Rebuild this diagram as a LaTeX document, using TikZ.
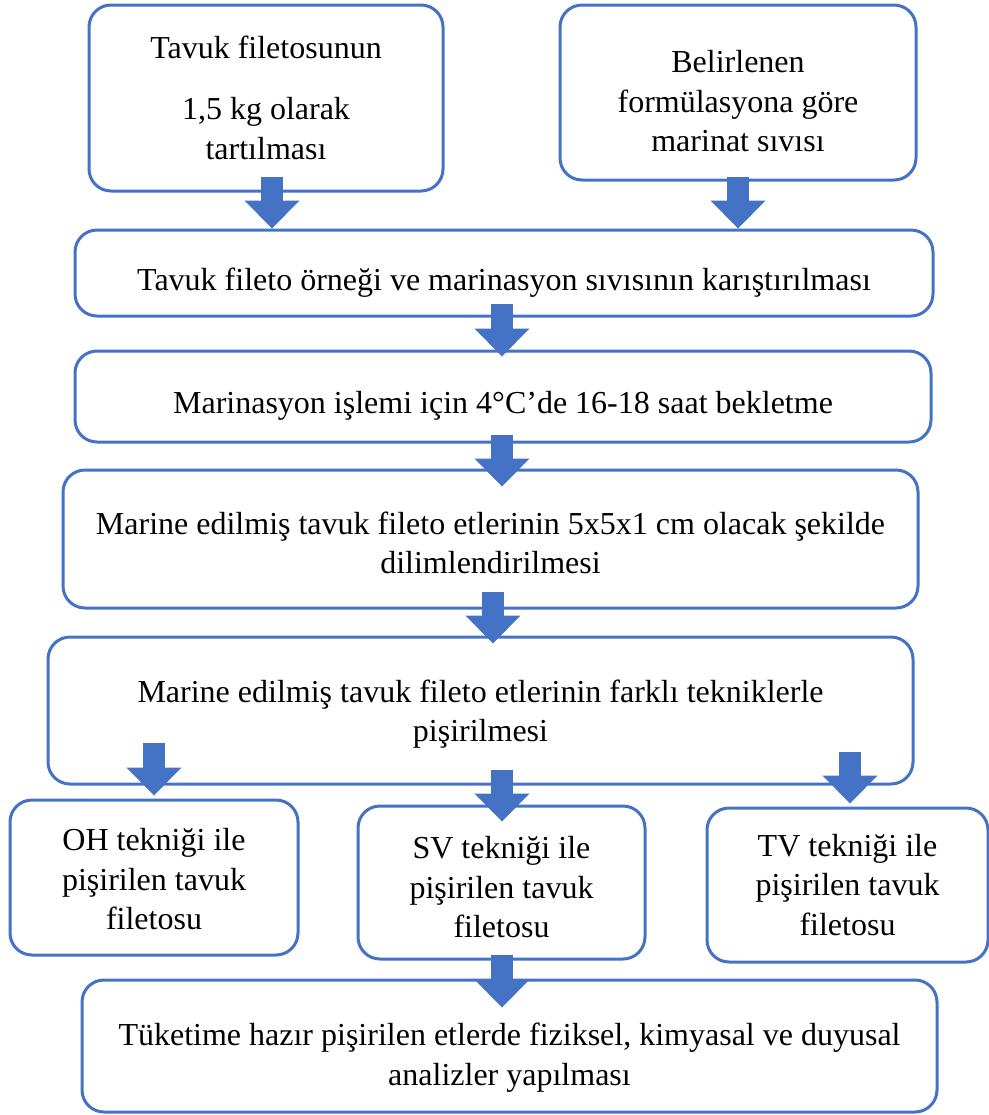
\documentclass[tikz,border=0pt]{standalone}
\usepackage{fontspec}
\setmainfont{Liberation Serif}
\usepackage{tikz}
\usetikzlibrary{arrows.meta}
\definecolor{flowblue}{HTML}{4472C4}
\newcommand{\textdrop}[1]{\rule{0pt}{\dimexpr 11pt+#1\relax}}
\tikzset{
  stepbox/.style={draw=flowblue, line width=1.5pt, rounded corners=11pt, fill=white,
    align=center, inner sep=0pt, font=\fontsize{16}{19.75}\selectfont},
  flow/.style={draw=flowblue, line width=11pt,
    -{Triangle[width=27.5pt,length=14pt,line width=0pt]}},
}

\begin{document}
\begin{tikzpicture}[x=0.5pt,y=-0.5pt]
                \useasboundingbox (0,0) rectangle (989,1115);
                % row 1
                \node[stepbox, minimum width=177pt, minimum height=93pt] (weigh) at (266,98)
                    {Tavuk filetosunun\\[10.75pt]1,5 kg olarak\\tartılması};
                \node[stepbox, minimum width=178pt, minimum height=87.5pt] (marinade) at (738,92.5)
                    {\textdrop{9pt}Belirlenen\\formülasyona göre\\marinat sıvısı};
                % middle steps
                \node[stepbox, minimum width=429pt, minimum height=43pt] (mix) at (504,273)
                    {\textdrop{10pt}Tavuk fileto örneği ve marinasyon sıvısının karıştırılması};
                \node[stepbox, minimum width=428pt, minimum height=45.5pt] (rest) at (503,396.5)
                    {\textdrop{9pt}Marinasyon işlemi için 4°C’de 16-18 saat bekletme};
                \node[stepbox, minimum width=427.5pt, minimum height=69pt] (slice) at (490.5,539)
                    {\textdrop{4pt}Marine edilmiş tavuk fileto etlerinin 5x5x1 cm olacak şekilde\\dilimlendirilmesi};
                \node[stepbox, minimum width=432.5pt, minimum height=73.5pt] (cook) at (480.5,710.5)
                    {\textdrop{4pt}Marine edilmiş tavuk fileto etlerinin farklı tekniklerle\\pişirilmesi};
                % techniques
                \node[stepbox, minimum width=144pt, minimum height=77.5pt] (oh) at (154,877.5)
                    {\textdrop{2pt}OH tekniği ile\\pişirilen tavuk\\filetosu};
                \node[stepbox, minimum width=143.5pt, minimum height=76.5pt] (sv) at (501.5,882.5)
                    {\textdrop{5pt}SV tekniği ile\\pişirilen tavuk\\filetosu};
                \node[stepbox, minimum width=140.5pt, minimum height=77pt] (tv) at (847.5,885)
                    {TV tekniği ile\\pişirilen tavuk\\filetosu};
                % last step
                \node[stepbox, minimum width=427.5pt, minimum height=66pt] (analysis) at (509.5,1046)
                    {\textdrop{12pt}Tüketime hazır pişirilen etlerde fiziksel, kimyasal ve duyusal\\analizler yapılması};
                % arrows row 1
                \draw[flow] ([xshift=3pt,yshift=8pt]weigh.south) -- ([xshift=3pt]weigh.south |- mix.north);
                \draw[flow] ([yshift=2.5pt]marinade.south) -- (marinade.south |- mix.north);
                % arrows middle
                \draw[flow] ([xshift=-1pt,yshift=7pt]mix.south) -- ([xshift=-1pt,yshift=-3.5pt]mix.south |- rest.north);
                \draw[flow] ([xshift=-0.5pt,yshift=4.5pt]rest.south) -- ([xshift=-0.5pt,yshift=-9pt]rest.south |- slice.north);
                \draw[flow] ([xshift=1.25pt,yshift=9pt]slice.south) -- ([xshift=1.25pt,yshift=-4pt]slice.south |- cook.north);
                % arrows to techniques
                \draw[flow] ([xshift=-163.25pt,yshift=21.5pt]cook.south) -- ([xshift=-163.25pt,yshift=1.5pt]cook.south |- oh.north);
                \draw[flow] ([xshift=10.75pt,yshift=8pt]cook.south) -- ([xshift=10.75pt,yshift=-8.5pt]cook.south |- sv.north);
                \draw[flow] ([xshift=184.75pt,yshift=17pt]cook.south) -- ([xshift=184.75pt,yshift=1.5pt]cook.south |- tv.north);
                % arrow to analysis
                \draw[flow] ([xshift=0.25pt,yshift=3pt]sv.south) -- ([xshift=0.25pt,yshift=-14.5pt]sv.south |- analysis.north);
\end{tikzpicture}
\end{document}
